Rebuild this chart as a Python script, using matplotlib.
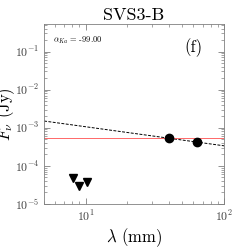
import numpy as np
import matplotlib
matplotlib.use('Agg')
import matplotlib.pyplot as plt

plt.rcParams.update({'font.size': 9})
plt.rc('font', family='serif', serif=['cmr10'])
plt.rc('mathtext', fontset='cm')
plt.rc('axes', unicode_minus=False, linewidth=0.6)

# detections (circles) and upper limits (triangles)
lam_det = [40.0, 64.0]
flux_det = [5.3e-4, 4.2e-4]
lam_lim = [8.1, 9.0, 10.2]
flux_lim = [4.7e-5, 3.0e-5, 3.7e-5]

# power-law fit and constant level
fit_amp = 5.3e-4
fit_ref = 40.0
fit_index = -0.5
flat_level = 5.3e-4
alpha_txt = '-99.00'

fig = plt.figure(figsize=(2.49, 2.49), dpi=100)
ax = fig.add_axes([0.177, 0.181, 0.723, 0.723])

lam = np.logspace(np.log10(5), 2, 50)
ax.plot(lam, fit_amp*(lam/fit_ref)**fit_index, 'k--', lw=0.7, dashes=(3, 1.5))
ax.axhline(flat_level, color='#ff5050', lw=0.6)
ax.plot(lam_det, flux_det, 'ko', ms=6)
ax.plot(lam_lim, flux_lim, 'kv', ms=5.5)

ax.set_xscale('log')
ax.set_yscale('log')
ax.set_xlim(5, 100)
ax.set_ylim(1e-5, 0.53)
ax.tick_params(which='both', direction='in', top=True, right=True, color='0.5',
               labelsize=8.5, labelcolor='0.25')
ax.tick_params(which='major', length=4, width=0.6)
ax.tick_params(which='minor', length=2, width=0.5)
for s in ax.spines.values():
    s.set_color('0.5')

ax.set_title('SVS3-B', fontsize=13, pad=3)
ax.set_xlabel(r'$\lambda$ (mm)', fontsize=12, labelpad=2)
ax.set_ylabel(r'$F_\nu$ (Jy)', fontsize=12, labelpad=-2)
ax.text(0.05, 0.94, r'$\alpha_{Ka}$ = ' + alpha_txt, transform=ax.transAxes, fontsize=6, va='top')
ax.text(0.83, 0.87, '(f)', transform=ax.transAxes, fontsize=12, ha='center', va='center')

plt.savefig('out.png', dpi=100)
